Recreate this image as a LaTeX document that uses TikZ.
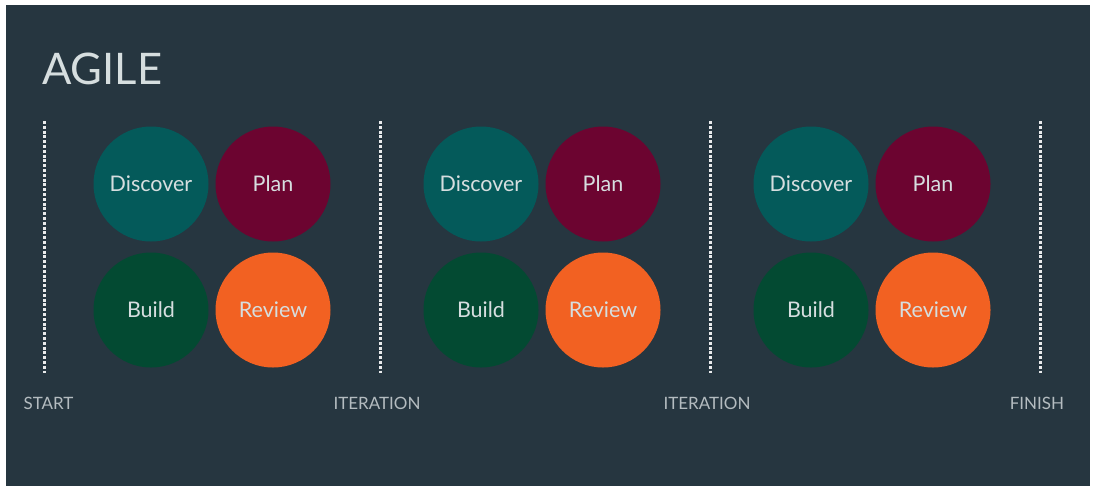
\documentclass[tikz,border=0pt]{standalone}
\usepackage{fontspec}
\setmainfont{Lato}
\definecolor{panel}{HTML}{263640}
\definecolor{discover}{HTML}{045A5A}
\definecolor{plan}{HTML}{6C0430}
\definecolor{build}{HTML}{034A32}
\definecolor{review}{HTML}{F26122}
\definecolor{ink}{HTML}{D6DEDF}
\definecolor{mark}{HTML}{B4BCC0}
\begin{document}
\begin{tikzpicture}[x=1pt,y=-1pt,
  phase/.style={circle,minimum size=115pt,inner sep=0pt,text=ink,
    font=\fontsize{21.5}{21.5}\selectfont},
  divider/.style={draw=white!90!panel,line width=3pt,dash pattern=on 3pt off 1.8pt},
  milestone/.style={text=mark,font=\fontsize{17}{17}\selectfont}]
  \useasboundingbox (0,0) rectangle (1097,493);
  \fill[white] (0,0) rectangle (1097,493);
  \fill[panel] (6,5) rectangle (1090,486);
  \node[anchor=base west,text=ink,font=\fontsize{43.5}{43.5}\selectfont] (title) at (38.5,84) {AGILE};
  % dotted dividers between iterations
  \foreach \x/\n in {44/d0,380/d1,710/d2,1040/d3}{
    \coordinate (\n top) at (\x,121);
    \coordinate (\n bot) at (\x,373);
    \draw[divider] (\n top) -- (\n bot);
  }
  % three iterations of discover / plan / build / review
  \foreach \i/\x in {1/151,2/481,3/811}{
    \node[phase,fill=discover] (discover\i) at (\x,184) {Discover};
    \node[phase,fill=plan] (plan\i) at (\x+122,184) {Plan};
    \node[phase,fill=build] (build\i) at (\x,310) {Build};
    \node[phase,fill=review] (review\i) at (\x+122,310) {Review};
  }
  \node[milestone,anchor=base west] (start) at (20,409) {START};
  \node[milestone,anchor=base] (iter1) at (377,409) {ITERATION};
  \node[milestone,anchor=base] (iter2) at (707,409) {ITERATION};
  \node[milestone,anchor=base] (finish) at (1037,409) {FINISH};
\end{tikzpicture}
\end{document}
